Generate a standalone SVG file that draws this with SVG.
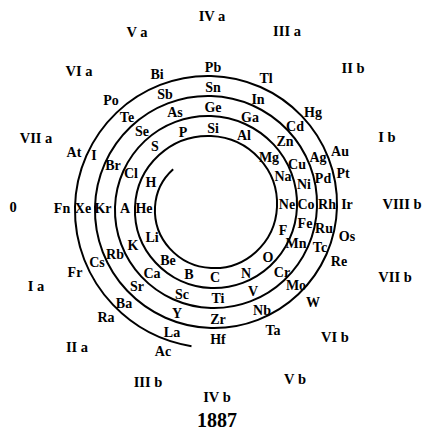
<svg xmlns="http://www.w3.org/2000/svg" width="422" height="433" viewBox="0 0 422 433">
<style>
.el{font-family:"Liberation Serif","Times New Roman",serif;font-size:14px;font-weight:bold;text-anchor:middle;fill:#000}
.grp{font-family:"Liberation Serif","Times New Roman",serif;font-size:14.5px;font-weight:bold;text-anchor:middle;fill:#000}
.yr{font-family:"Liberation Serif","Times New Roman",serif;font-size:20px;font-weight:bold;text-anchor:middle;fill:#000}
.sp{fill:none;stroke:#000;stroke-width:2}
</style>
<rect width="422" height="433" fill="#fff"/>
<g id="connectors">
<path class="sp" d="M173.17,169.17 A54.75,54.75 0 0 0 155,207 A57.25,57.25 0 0 0 169.63,248.37 A59.75,59.75 0 0 0 211,268 A62.25,62.25 0 0 0 255.9,251.9 A64.75,64.75 0 0 0 277,207 A67.25,67.25 0 0 0 259.44,158.56 A69.75,69.75 0 0 0 211,136 A72.25,72.25 0 0 0 159.03,155.03 A74.75,74.75 0 0 0 135,207 A77.25,77.25 0 0 0 155.49,262.51 A79.75,79.75 0 0 0 211,288 A82.25,82.25 0 0 0 270.04,266.04 A84.75,84.75 0 0 0 297,207 A87.25,87.25 0 0 0 273.58,144.42 A89.75,89.75 0 0 0 211,116 A92.25,92.25 0 0 0 144.89,140.89 A94.75,94.75 0 0 0 115,207 A97.25,97.25 0 0 0 141.35,276.65 A99.75,99.75 0 0 0 211,308 A102.25,102.25 0 0 0 284.18,280.18 A104.75,104.75 0 0 0 317,207 A107.25,107.25 0 0 0 287.72,130.28 A109.75,109.75 0 0 0 211,96 A112.25,112.25 0 0 0 130.74,126.74 A114.75,114.75 0 0 0 95,207 A117.25,117.25 0 0 0 127.21,290.79 A119.75,119.75 0 0 0 211,328 A122.25,122.25 0 0 0 298.33,294.33 A124.75,124.75 0 0 0 337,207 A127.25,127.25 0 0 0 301.86,116.14 A129.75,129.75 0 0 0 211,76 A132.25,132.25 0 0 0 116.6,112.6 A134.75,134.75 0 0 0 75,207 A137.25,137.25 0 0 0 113.07,304.93 A139.5,139.5 0 0 0 191.5,346.2"/>
</g>
<g id="groups">
<g id="g-IVa"><text class="grp" x="212" y="21">IV a</text></g>
<g id="g-Va"><text class="grp" x="137" y="37">V a</text></g>
<g id="g-IIIa"><text class="grp" x="287" y="36">III a</text></g>
<g id="g-VIa"><text class="grp" x="79" y="76">VI a</text></g>
<g id="g-IIb"><text class="grp" x="353" y="73">II b</text></g>
<g id="g-VIIa"><text class="grp" x="36" y="143">VII a</text></g>
<g id="g-Ib"><text class="grp" x="387" y="142">I b</text></g>
<g id="g-0"><text class="grp" x="13" y="212">0</text></g>
<g id="g-VIIIb"><text class="grp" x="402" y="209">VIII b</text></g>
<g id="g-VIIb"><text class="grp" x="395" y="282">VII b</text></g>
<g id="g-Ia"><text class="grp" x="36" y="291">I a</text></g>
<g id="g-VIb"><text class="grp" x="335" y="342">VI b</text></g>
<g id="g-IIa"><text class="grp" x="77" y="352">II a</text></g>
<g id="g-Vb"><text class="grp" x="295" y="384">V b</text></g>
<g id="g-IIIb"><text class="grp" x="148" y="387">III b</text></g>
<g id="g-IVb"><text class="grp" x="217" y="402">IV b</text></g>
<g id="g-year"><text class="yr" x="217" y="427">1887</text></g>
</g>
<g id="elements">
<g id="n-Pb"><text class="el" x="213" y="72">Pb</text></g>
<g id="n-Sn"><text class="el" x="213" y="92">Sn</text></g>
<g id="n-Ge"><text class="el" x="213" y="112">Ge</text></g>
<g id="n-Si"><text class="el" x="213" y="133">Si</text></g>
<g id="n-Bi"><text class="el" x="157" y="79">Bi</text></g>
<g id="n-Sb"><text class="el" x="165" y="99">Sb</text></g>
<g id="n-As"><text class="el" x="175" y="117">As</text></g>
<g id="n-P"><text class="el" x="183" y="137">P</text></g>
<g id="n-Tl"><text class="el" x="266" y="83">Tl</text></g>
<g id="n-In"><text class="el" x="258" y="104">In</text></g>
<g id="n-Ga"><text class="el" x="250" y="122">Ga</text></g>
<g id="n-Al"><text class="el" x="244" y="140">Al</text></g>
<g id="n-Po"><text class="el" x="111" y="105">Po</text></g>
<g id="n-Te"><text class="el" x="127" y="122">Te</text></g>
<g id="n-Se"><text class="el" x="142" y="136">Se</text></g>
<g id="n-S"><text class="el" x="155" y="151">S</text></g>
<g id="n-Hg"><text class="el" x="313" y="117">Hg</text></g>
<g id="n-Cd"><text class="el" x="295" y="131">Cd</text></g>
<g id="n-Zn"><text class="el" x="285" y="146">Zn</text></g>
<g id="n-Mg"><text class="el" x="269" y="162">Mg</text></g>
<g id="n-At"><text class="el" x="74" y="157">At</text></g>
<g id="n-I"><text class="el" x="94" y="160">I</text></g>
<g id="n-Br"><text class="el" x="113" y="170">Br</text></g>
<g id="n-Cl"><text class="el" x="131" y="178">Cl</text></g>
<g id="n-H"><text class="el" x="151" y="187">H</text></g>
<g id="n-Au"><text class="el" x="340" y="156">Au</text></g>
<g id="n-Ag"><text class="el" x="318" y="162">Ag</text></g>
<g id="n-Cu"><text class="el" x="297" y="169">Cu</text></g>
<g id="n-Na"><text class="el" x="283" y="181">Na</text></g>
<g id="n-Pt"><text class="el" x="343" y="178">Pt</text></g>
<g id="n-Pd"><text class="el" x="323" y="183">Pd</text></g>
<g id="n-Ni"><text class="el" x="304" y="189">Ni</text></g>
<g id="n-Fn"><text class="el" x="62" y="213">Fn</text></g>
<g id="n-Xe"><text class="el" x="83" y="213">Xe</text></g>
<g id="n-Kr"><text class="el" x="103" y="213">Kr</text></g>
<g id="n-A"><text class="el" x="125" y="213">A</text></g>
<g id="n-He"><text class="el" x="144" y="213">He</text></g>
<g id="n-Ne"><text class="el" x="287" y="209">Ne</text></g>
<g id="n-Co"><text class="el" x="306" y="209">Co</text></g>
<g id="n-Rh"><text class="el" x="327" y="209">Rh</text></g>
<g id="n-Ir"><text class="el" x="347" y="209">Ir</text></g>
<g id="n-F"><text class="el" x="283" y="235">F</text></g>
<g id="n-Fe"><text class="el" x="305" y="228">Fe</text></g>
<g id="n-Ru"><text class="el" x="324" y="233">Ru</text></g>
<g id="n-Os"><text class="el" x="347" y="241">Os</text></g>
<g id="n-Li"><text class="el" x="152" y="242">Li</text></g>
<g id="n-K"><text class="el" x="133" y="250">K</text></g>
<g id="n-Rb"><text class="el" x="115" y="259">Rb</text></g>
<g id="n-Cs"><text class="el" x="97" y="267">Cs</text></g>
<g id="n-Fr"><text class="el" x="75" y="277">Fr</text></g>
<g id="n-Mn"><text class="el" x="296" y="248">Mn</text></g>
<g id="n-Tc"><text class="el" x="320" y="252">Tc</text></g>
<g id="n-Re"><text class="el" x="339" y="266">Re</text></g>
<g id="n-O"><text class="el" x="268" y="262">O</text></g>
<g id="n-Cr"><text class="el" x="282" y="277">Cr</text></g>
<g id="n-Mo"><text class="el" x="296" y="290">Mo</text></g>
<g id="n-W"><text class="el" x="313" y="307">W</text></g>
<g id="n-Be"><text class="el" x="168" y="265">Be</text></g>
<g id="n-Ca"><text class="el" x="152" y="278">Ca</text></g>
<g id="n-Sr"><text class="el" x="137" y="291">Sr</text></g>
<g id="n-Ba"><text class="el" x="124" y="308">Ba</text></g>
<g id="n-Ra"><text class="el" x="106" y="322">Ra</text></g>
<g id="n-B"><text class="el" x="189" y="279">B</text></g>
<g id="n-C"><text class="el" x="215" y="282">C</text></g>
<g id="n-N"><text class="el" x="246" y="278">N</text></g>
<g id="n-V"><text class="el" x="253" y="296">V</text></g>
<g id="n-Sc"><text class="el" x="182" y="299">Sc</text></g>
<g id="n-Ti"><text class="el" x="218" y="303">Ti</text></g>
<g id="n-Nb"><text class="el" x="262" y="315">Nb</text></g>
<g id="n-Y"><text class="el" x="177" y="318">Y</text></g>
<g id="n-Zr"><text class="el" x="218" y="324">Zr</text></g>
<g id="n-Ta"><text class="el" x="273" y="335">Ta</text></g>
<g id="n-La"><text class="el" x="172" y="337">La</text></g>
<g id="n-Hf"><text class="el" x="218" y="344">Hf</text></g>
<g id="n-Ac"><text class="el" x="163" y="356">Ac</text></g>
</g>
</svg>
